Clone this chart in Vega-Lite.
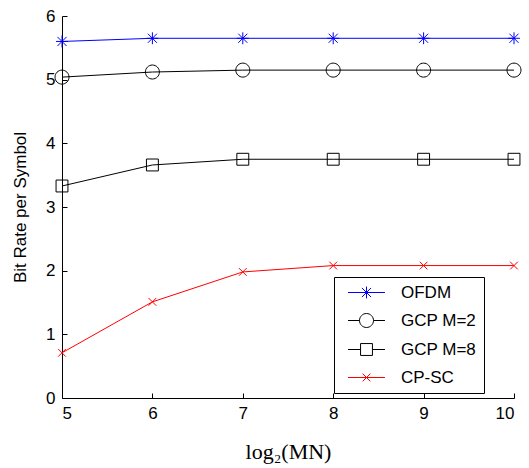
{
  "$schema": "https://vega.github.io/schema/vega-lite/v6.json",
  "width": 452,
  "height": 382,
  "autosize": {"type": "none"},
  "padding": {"left": 62, "top": 16, "right": 15, "bottom": 70},
  "background": "white",
  "config": {
    "view": {"stroke": null},
    "font": "Liberation Sans",
    "axis": {
      "grid": false,
      "domainColor": "black",
      "tickColor": "black",
      "tickSize": -5,
      "labelColor": "black",
      "labelFontSize": 17,
      "labelFont": "Liberation Sans",
      "titleColor": "black",
      "titleFontWeight": "normal"
    },
    "legend": {
      "orient": "none",
      "legendX": 272,
      "legendY": 261,
      "strokeColor": "black",
      "fillColor": "white",
      "padding": 7,
      "symbolOffset": 17,
      "labelFontSize": 17,
      "labelColor": "black",
      "labelOffset": 26,
      "rowPadding": 10,
      "symbolSize": 196,
      "symbolStrokeWidth": 1,
      "symbolFillColor": "transparent"
    }
  },
  "data": {
    "values": [
      {"x": 5, "y": 5.60, "series": "OFDM"},
      {"x": 6, "y": 5.65, "series": "OFDM"},
      {"x": 7, "y": 5.65, "series": "OFDM"},
      {"x": 8, "y": 5.65, "series": "OFDM"},
      {"x": 9, "y": 5.65, "series": "OFDM"},
      {"x": 10, "y": 5.65, "series": "OFDM"},
      {"x": 5, "y": 5.04, "series": "GCP M=2"},
      {"x": 6, "y": 5.12, "series": "GCP M=2"},
      {"x": 7, "y": 5.15, "series": "GCP M=2"},
      {"x": 8, "y": 5.15, "series": "GCP M=2"},
      {"x": 9, "y": 5.15, "series": "GCP M=2"},
      {"x": 10, "y": 5.15, "series": "GCP M=2"},
      {"x": 5, "y": 3.33, "series": "GCP M=8"},
      {"x": 6, "y": 3.66, "series": "GCP M=8"},
      {"x": 7, "y": 3.75, "series": "GCP M=8"},
      {"x": 8, "y": 3.75, "series": "GCP M=8"},
      {"x": 9, "y": 3.75, "series": "GCP M=8"},
      {"x": 10, "y": 3.75, "series": "GCP M=8"},
      {"x": 5, "y": 0.71, "series": "CP-SC"},
      {"x": 6, "y": 1.51, "series": "CP-SC"},
      {"x": 7, "y": 1.98, "series": "CP-SC"},
      {"x": 8, "y": 2.08, "series": "CP-SC"},
      {"x": 9, "y": 2.08, "series": "CP-SC"},
      {"x": 10, "y": 2.08, "series": "CP-SC"}
    ]
  },
  "encoding": {
    "x": {
      "field": "x", "type": "quantitative",
      "scale": {"domain": [5, 10], "nice": false, "zero": false},
      "axis": {"values": [5, 6, 7, 8, 9, 10], "title": "log₂(MN)", "titleFont": "Liberation Serif", "titleFontSize": 22, "labelPadding": 12, "titlePadding": 20}
    },
    "y": {
      "field": "y", "type": "quantitative",
      "scale": {"domain": [0, 6], "nice": false},
      "axis": {"values": [0, 1, 2, 3, 4, 5, 6], "title": "Bit Rate per Symbol", "titleFontSize": 17, "labelPadding": 12, "titlePadding": 16}
    }
  },
  "layer": [
    {
      "mark": {"type": "line", "strokeWidth": 1},
      "encoding": {
        "color": {
          "field": "series", "type": "nominal",
          "scale": {"domain": ["OFDM", "GCP M=2", "GCP M=8", "CP-SC"], "range": ["#0000ff", "#000000", "#000000", "#ff0000"]},
          "legend": null
        }
      }
    },
    {
      "mark": {"type": "point", "filled": false, "size": 196, "strokeWidth": 1, "opacity": 1},
      "encoding": {
        "color": {
          "field": "series", "type": "nominal",
          "scale": {"domain": ["OFDM", "GCP M=2", "GCP M=8", "CP-SC"], "range": ["#0000ff", "#000000", "#000000", "#ff0000"]},
          "legend": null
        },
        "shape": {
          "field": "series", "type": "nominal",
          "scale": {
            "domain": ["OFDM", "GCP M=2", "GCP M=8", "CP-SC"],
            "range": [
              "M0,-0.85V0.85M-0.85,0H0.85M-0.65,-0.65L0.65,0.65M-0.65,0.65L0.65,-0.65",
              "M1,0A1,1,0,1,1,-1,0A1,1,0,1,1,1,0Z",
              "M-0.85,-0.85H0.85V0.85H-0.85Z",
              "M-0.55,-0.55L0.55,0.55M-0.55,0.55L0.55,-0.55"
            ]
          },
          "legend": null
        }
      }
    },
    {
      "transform": [{"filter": "false"}],
      "mark": {"type": "point", "filled": false, "size": 196, "strokeWidth": 1, "opacity": 1},
      "encoding": {
        "color": {
          "field": "series", "type": "nominal",
          "scale": {"domain": ["OFDM", "GCP M=2", "GCP M=8", "CP-SC"], "range": ["#0000ff", "#000000", "#000000", "#ff0000"]},
          "legend": {"title": null}
        },
        "shape": {
          "field": "series", "type": "nominal",
          "scale": {
            "domain": ["OFDM", "GCP M=2", "GCP M=8", "CP-SC"],
            "range": [
              "M-2.64,0H2.64M0,-0.85V0.85M-0.65,-0.65L0.65,0.65M-0.65,0.65L0.65,-0.65",
              "M-2.64,0H-1M1,0H2.64M1,0A1,1,0,1,1,-1,0A1,1,0,1,1,1,0Z",
              "M-2.64,0H-0.85M0.85,0H2.64M-0.85,-0.85H0.85V0.85H-0.85Z",
              "M-2.64,0H2.64M-0.55,-0.55L0.55,0.55M-0.55,0.55L0.55,-0.55"
            ]
          },
          "legend": {"title": null}
        }
      }
    }
  ],
  "resolve": {
    "scale": {"shape": "independent"},
    "legend": {"shape": "independent", "color": "independent"}
  }
}
